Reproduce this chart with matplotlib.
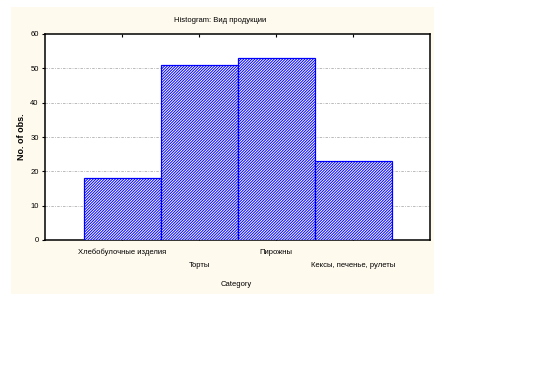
import matplotlib.pyplot as plt
from matplotlib.patches import Rectangle

# data
categories = ['Хлебобулочные изделия', 'Торты', 'Пирожны', 'Кексы, печенье, рулеты']
counts = [18, 51, 53, 23]
yticks = [0, 10, 20, 30, 40, 50, 60]


def main():
    plt.rcParams['font.family'] = ['Liberation Sans', 'DejaVu Sans']
    plt.rcParams['hatch.linewidth'] = 0.7
    plt.rcParams['hatch.color'] = '#0000ff'

    fig = plt.figure(figsize=(5.56, 3.76), dpi=100)
    fig.patch.set_facecolor('white')
    # cream panel behind the chart
    fig.patches.append(Rectangle((11 / 556, 1 - 294 / 376), 423 / 556, 287 / 376,
                                 transform=fig.transFigure, facecolor='#fffaee',
                                 edgecolor='none', zorder=-10))

    ax = fig.add_axes([45 / 556, 1 - 240 / 376, 385 / 556, 206 / 376])
    ax.set_facecolor('white')

    pos = list(range(len(categories)))
    ax.bar(pos, counts, width=1.0, facecolor='white', edgecolor='#0000ff',
           hatch='////////////', linewidth=0.9, zorder=3)

    ax.set_xlim(-1, 4)
    ax.set_ylim(0, 60)
    ax.set_yticks(yticks)
    ax.set_yticklabels([str(v) for v in yticks], fontsize=5.5)
    ax.set_xticks(pos)
    ax.set_xticklabels([])
    ax.tick_params(axis='x', direction='in', length=2.5, top=True, width=0.8)
    ax.tick_params(axis='y', direction='out', length=2.5, width=0.8, pad=2)

    for i in yticks[1:-1]:
        ax.axhline(i, color='#b0b0b0', linestyle=(0, (3, 1.5, 1, 1.5)),
                   linewidth=0.6, zorder=1)

    for s in ax.spines.values():
        s.set_linewidth(1.1)

    # staggered category labels
    for i, name in enumerate(categories):
        yoff = -9 if i % 2 == 0 else -18.5
        ax.annotate(name, xy=(i, 0), xycoords='data', xytext=(0, yoff),
                    textcoords='offset points', ha='center', va='center',
                    fontsize=5.5, annotation_clip=False)

    fig.text(236 / 556, 1 - 284 / 376, 'Category', ha='center', va='center', fontsize=5.5)
    fig.text(220 / 556, 1 - 21 / 376, 'Histogram: Вид продукции', ha='center',
             va='center', fontsize=5.5)
    fig.text(21 / 556, 1 - 137 / 376, 'No. of obs.', rotation=90, ha='center',
             va='center', fontsize=6.5, fontweight='bold')

    plt.savefig('out.png', dpi=100)


if __name__ == '__main__':

    main()
